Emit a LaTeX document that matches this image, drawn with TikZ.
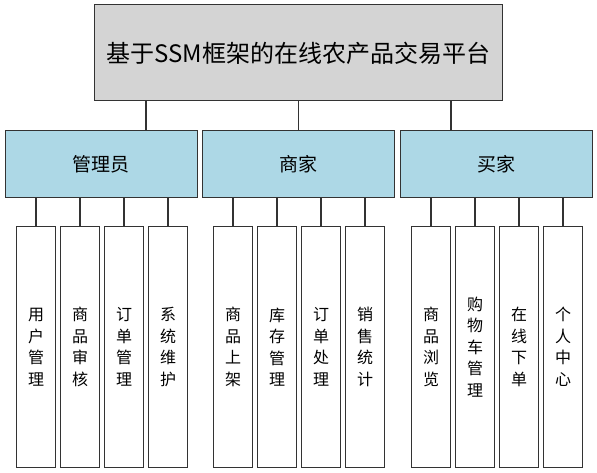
\documentclass[tikz,border=0pt]{standalone}
\usepackage{fontspec}
\newfontfamily\cjk{Noto Sans CJK SC}
\begin{document}
\begin{tikzpicture}[x=1pt,y=-1pt,
  every node/.style={inner sep=0pt, outer sep=0pt},
  box/.style={draw=black!80, line width=1pt, rectangle, text=black},
  topbox/.style={box, fill=black!17, minimum width=408pt, minimum height=96pt, font=\cjk\fontsize{24}{30}\selectfont},
  midbox/.style={box, fill={rgb,255:red,173;green,216;blue,230}, minimum width=192pt, minimum height=67pt, font=\cjk\fontsize{19}{22}\selectfont},
  leafbox/.style={box, fill=white, minimum width=38.5pt, minimum height=240pt, align=center, font=\cjk\fontsize{16}{21.5}\selectfont},
  link/.style={draw=black!80, line width=1.2pt}]
\useasboundingbox (0,0) rectangle (597,473);

\node[topbox] (top) at (298.5,53) {基于SSM框架的在线农产品交易平台};

\node[midbox] (admin) at (101,164.2) {管理员};
\node[midbox] (shop) at (298.5,164.2) {商家};
\node[midbox] (buyer) at (496,164.2) {买家};

\node[leafbox] (a1) at (36,347) {用\\户\\管\\理};
\node[leafbox] (a2) at (80,347) {商\\品\\审\\核};
\node[leafbox] (a3) at (124,347) {订\\单\\管\\理};
\node[leafbox] (a4) at (168,347) {系\\统\\维\\护};

\node[leafbox] (s1) at (233,347) {商\\品\\上\\架};
\node[leafbox] (s2) at (277,347) {库\\存\\管\\理};
\node[leafbox] (s3) at (321,347) {订\\单\\处\\理};
\node[leafbox] (s4) at (365,347) {销\\售\\统\\计};

\node[leafbox] (b1) at (431,347) {商\\品\\浏\\览};
\node[leafbox] (b2) at (475,347) {购\\物\\车\\管\\理};
\node[leafbox] (b3) at (519,347) {在\\线\\下\\单};
\node[leafbox] (b4) at (563,347) {个\\人\\中\\心};

\draw[link] ([xshift=-152.5pt]top.south) -- ([xshift=-152.5pt]top.south |- admin.north);
\draw[link] (top.south) -- (shop.north);
\draw[link] ([xshift=152.5pt]top.south) -- ([xshift=152.5pt]top.south |- buyer.north);

\foreach \p/\c in {admin/a1,admin/a2,admin/a3,admin/a4,shop/s1,shop/s2,shop/s3,shop/s4,buyer/b1,buyer/b2,buyer/b3,buyer/b4}
  \draw[link] (\c.north |- \p.south) -- (\c.north);
\end{tikzpicture}
\end{document}
